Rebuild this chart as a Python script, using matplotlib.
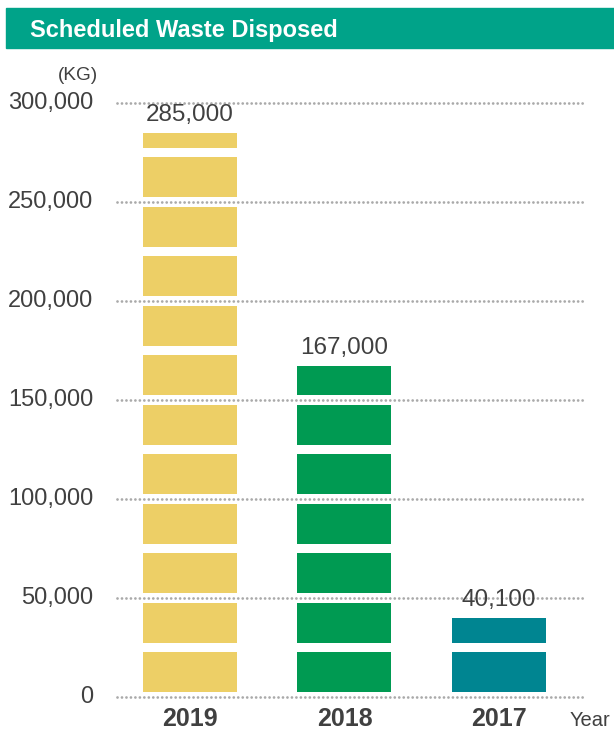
import matplotlib
matplotlib.use('Agg')
import matplotlib.pyplot as plt
from matplotlib.patches import Rectangle

plt.rcParams['font.family'] = ['Liberation Sans', 'DejaVu Sans']

years = ['2019', '2018', '2017']
waste_kg = [285000, 167000, 40100]
value_labels = ['285,000', '167,000', '40,100']
bar_colors = ['#EDCF66', '#009A52', '#008591']
yticks = [0, 50000, 100000, 150000, 200000, 250000, 300000]
ytick_labels = ['0', '50,000', '100,000', '150,000', '200,000', '250,000', '300,000']

block = 25000   # each stacked block
pad = 2500      # white gap half-height inside each block

text_col = '#404040'
W, H = 614, 731
fig = plt.figure(figsize=(W / 100, H / 100), dpi=100)

# title banner
fig.patches.append(Rectangle((6 / W, 1 - 48 / H), 1 - 6 / W, 40 / H,
                             transform=fig.transFigure, color='#00A389', zorder=0))
fig.text(30 / W, 1 - 30 / H, 'Scheduled Waste Disposed', color='white',
         fontsize=17, fontweight='bold', va='center', ha='left')

ax = fig.add_axes([117 / W, 34 / H, 466 / W, 594 / H])
ax.set_xlim(-0.472, 2.544)
ax.set_ylim(0, 300000)
for s in ax.spines.values():
    s.set_visible(False)
ax.set_xticks([])
ax.set_yticks([])

for yv, lab in zip(yticks, ytick_labels):
    ax.axhline(yv, color='#AAAAAA', linewidth=2.0, linestyle=(0, (0.01, 1.6)),
               dash_capstyle='round', zorder=1, clip_on=False)
    ax.text(-0.627, yv, lab, ha='right', va='center',
            fontsize=17, color=text_col, clip_on=False)

# bars drawn as stacked blocks with white gaps
width = 0.608
for i, (v, c) in enumerate(zip(waste_kg, bar_colors)):
    b = 0
    while b + pad < v:
        lo = b + pad
        hi = min(b + block - pad, v)
        ax.bar(i, hi - lo, bottom=lo, width=width, color=c, zorder=2)
        b += block
    ax.text(i, v + 3500, value_labels[i], ha='center', va='bottom',
            fontsize=17.5, color=text_col)
    ax.text(i, -11000, years[i], ha='center', va='center', fontsize=18,
            fontweight='bold', color=text_col)

fig.text(78 / W, 1 - 75 / H, '(KG)', ha='center', va='center', fontsize=13.7,
         color=text_col)
fig.text(590 / W, 1 - 720 / H, 'Year', ha='center', va='center', fontsize=14.5,
         color=text_col)

fig.savefig('out.png', dpi=100)
